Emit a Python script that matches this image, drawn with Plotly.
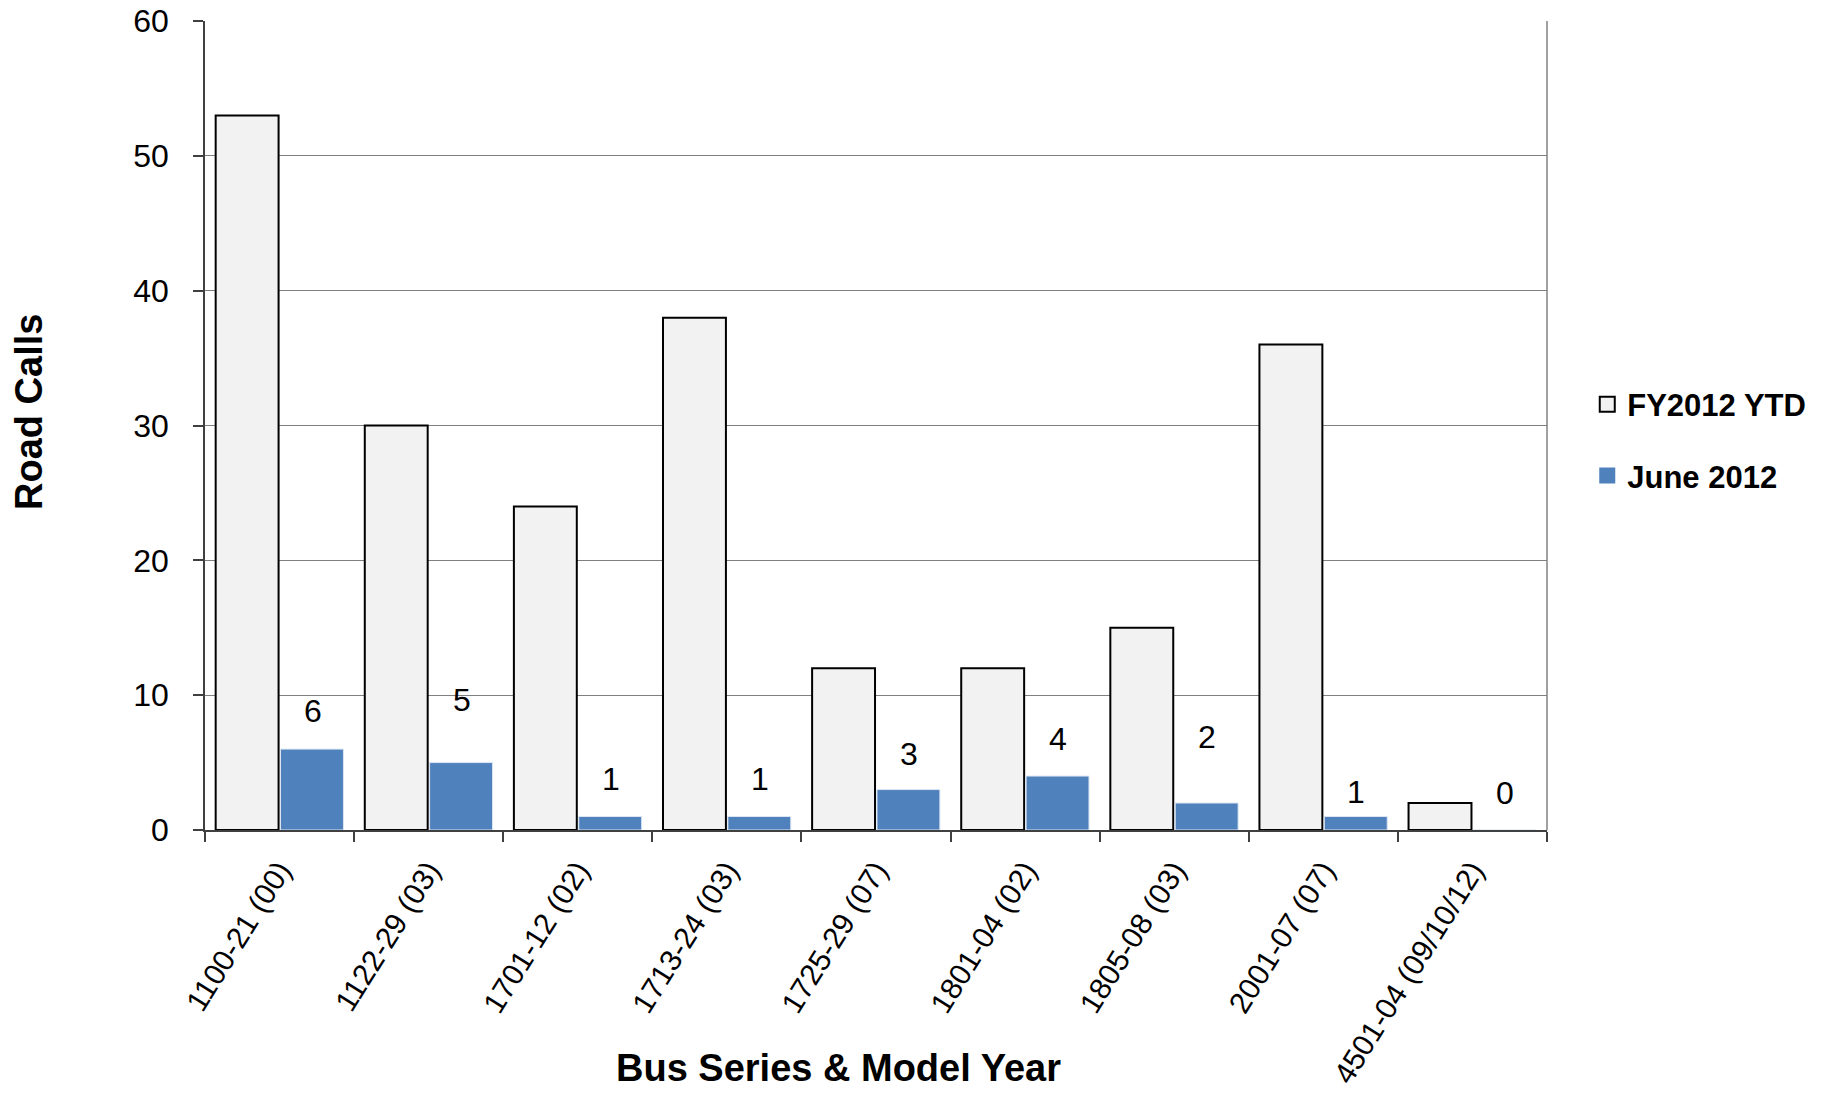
import plotly.graph_objects as go

categories = ["1100-21 (00)", "1122-29 (03)", "1701-12 (02)", "1713-24 (03)",
              "1725-29 (07)", "1801-04 (02)", "1805-08 (03)", "2001-07 (07)",
              "4501-04 (09/10/12)"]
fy2012_ytd = [53, 30, 24, 38, 12, 12, 15, 36, 2]
june_2012 = [6, 5, 1, 1, 3, 4, 2, 1, 0]
y_ticks = [0, 10, 20, 30, 40, 50, 60]

# pixel lift of each June data label above its bar top (style, not data)
label_lift = [38, 63, 38, 38, 36, 37, 66, 25, 37]

FONT = "Liberation Sans, Arial, sans-serif"
FY_FILL, FY_LINE = "#F2F2F2", "#000000"
JUNE_FILL = "#4F81BD"

W, H = 1831, 1097
L, R, T, B = 205, 284, 21, 267
pw, ph = W - L - R, H - T - B

fig = go.Figure()
fig.add_trace(go.Bar(
    x=categories, y=fy2012_ytd, name="FY2012 YTD",
    marker=dict(color=FY_FILL, line=dict(color=FY_LINE, width=2)),
    showlegend=False,
))
fig.add_trace(go.Bar(
    x=categories, y=june_2012, name="June 2012",
    marker=dict(color=JUNE_FILL, line=dict(color="#DCE6F2", width=1)),
    showlegend=False,
))
# legend-only entries with larger square keys
fig.add_trace(go.Scatter(
    x=[None], y=[None], mode="markers", name="FY2012 YTD", legendgroup="a",
    marker=dict(symbol="square", size=15, color=FY_FILL, line=dict(color=FY_LINE, width=2)),
))
fig.add_trace(go.Scatter(
    x=[None], y=[None], mode="markers", name="June 2012", legendgroup="b",
    marker=dict(symbol="square", size=16, color=JUNE_FILL, line=dict(width=0)),
))

for cat, val, lift in zip(categories, june_2012, label_lift):
    fig.add_annotation(
        x=cat, y=val, xref="x", yref="y", text=str(val), showarrow=False,
        xshift=33, yshift=lift, yanchor="middle", xanchor="center",
        font=dict(family=FONT, size=32, color="#000000"),
    )

# axis titles placed by pixel position, converted to paper coords
fig.add_annotation(
    x=(838 - L) / pw, y=(H - B - 1068) / ph, xref="paper", yref="paper",
    xanchor="center", yanchor="middle",
    text="<b>Bus Series & Model Year</b>", showarrow=False,
    font=dict(family=FONT, size=38, color="#000000"),
)
fig.add_annotation(
    x=(29 - L) / pw, y=(H - B - 412) / ph, xref="paper", yref="paper",
    xanchor="center", yanchor="middle",
    text="<b>Road Calls</b>", textangle=-90, showarrow=False,
    font=dict(family=FONT, size=38, color="#000000"),
)

fig.add_shape(type="line", xref="paper", yref="paper", x0=1, x1=1, y0=0, y1=1,
              line=dict(color="#808080", width=1.5))

fig.update_layout(
    width=W, height=H,
    margin=dict(l=L, r=R, t=T, b=B, autoexpand=False),
    paper_bgcolor="white", plot_bgcolor="white",
    barmode="group", bargap=0.13, bargroupgap=0.03,
    font=dict(family=FONT, color="#000000"),
    legend=dict(
        x=1.030, y=0.482, xanchor="left", yanchor="middle",
        font=dict(family=FONT, size=31, color="#000000", weight="bold"),
        traceorder="grouped", tracegroupgap=28, itemwidth=30,
        bgcolor="rgba(0,0,0,0)",
    ),
    xaxis=dict(
        type="category", tickangle=-58, tickson="boundaries",
        ticks="outside", ticklen=10, tickcolor="#404040", tickwidth=1.5,
        showline=True, linecolor="#404040", linewidth=1.5,
        showgrid=False,
        tickfont=dict(family=FONT, size=30, color="#000000"),
        ticklabelstandoff=9,
    ),
    yaxis=dict(
        range=[0, 60], tickvals=y_ticks, ticks="outside", ticklen=10,
        tickcolor="#404040", tickwidth=1.5,
        showline=True, linecolor="#404040", linewidth=1.5,
        showgrid=True, gridcolor="#7F7F7F", gridwidth=1.2,
        zeroline=False,
        tickfont=dict(family=FONT, size=32, color="#000000"),
        ticklabelstandoff=18,
    ),
)

fig.write_html("out.html")
